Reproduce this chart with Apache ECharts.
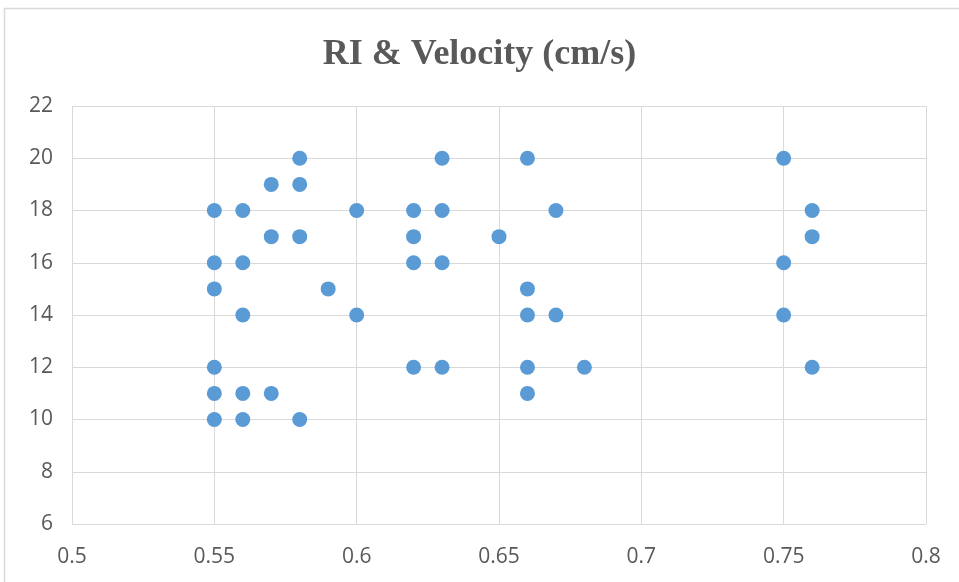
<!DOCTYPE html>
<html>
<head>
<meta charset="utf-8">
<script src="https://cdn.jsdelivr.net/npm/echarts@6/dist/echarts.min.js"></script>
<style>
  html, body { margin: 0; padding: 0; background: #fff; }
  #mainChart { width: 959px; height: 582px; }
</style>
</head>
<body>
<div id="mainChart"></div>
<script>
// RI values (x) and velocity values (y)
var riValues = [
  0.55, 0.55, 0.55, 0.55, 0.55, 0.55,
  0.56, 0.56, 0.56, 0.56, 0.56,
  0.57, 0.57, 0.57,
  0.58, 0.58, 0.58, 0.58,
  0.59,
  0.6, 0.6,
  0.62, 0.62, 0.62, 0.62,
  0.63, 0.63, 0.63, 0.63,
  0.65,
  0.66, 0.66, 0.66, 0.66, 0.66,
  0.67, 0.67,
  0.68,
  0.75, 0.75, 0.75,
  0.76, 0.76, 0.76
];
var velocityValues = [
  18, 16, 15, 12, 11, 10,
  18, 16, 14, 11, 10,
  19, 17, 11,
  20, 19, 17, 10,
  15,
  18, 14,
  18, 17, 16, 12,
  20, 18, 16, 12,
  17,
  20, 15, 14, 12, 11,
  18, 14,
  12,
  20, 16, 14,
  18, 17, 12
];
var xTicks = [0.5, 0.8, 0.05];
var yTicks = [6, 22, 2];

var points = riValues.map(function (x, i) { return [x, velocityValues[i]]; });

var chartDom = document.getElementById('mainChart');
var myChart = echarts.init(chartDom);

var labelFont = "'Open Sans', 'DejaVu Sans', sans-serif";

var option = {
    backgroundColor: '#fff',
    animation: false,
    title: {
        text: 'RI & Velocity (cm/s)',
        left: 'center',
        top: 32,
        textStyle: {
            fontFamily: "'Liberation Serif', 'DejaVu Serif', serif",
            fontWeight: 'bold',
            fontSize: 36,
            color: '#595959'
        }
    },
    graphic: [{
        type: 'rect',
        shape: { x: 4.5, y: 8.5, width: 970, height: 600 },
        style: { fill: 'none', stroke: '#d9d9d9', lineWidth: 1.5 },
        silent: true
    }],
    grid: { left: 72, right: 33, top: 106, bottom: 58 },
    xAxis: {
        type: 'value',
        min: xTicks[0],
        max: xTicks[1],
        interval: xTicks[2],
        axisLine: { show: true, lineStyle: { color: '#d9d9d9' } },
        axisTick: { show: false },
        splitLine: { show: true, lineStyle: { color: '#d9d9d9' } },
        axisLabel: {
            margin: 23,
            fontFamily: labelFont,
            fontSize: 21,
            color: '#595959',
            formatter: function (v) { return String(+v.toFixed(2)); }
        }
    },
    yAxis: {
        type: 'value',
        min: yTicks[0],
        max: yTicks[1],
        interval: yTicks[2],
        axisLine: { show: false },
        axisTick: { show: false },
        splitLine: { show: true, lineStyle: { color: '#d9d9d9' } },
        axisLabel: {
            margin: 19,
            fontFamily: labelFont,
            fontSize: 21,
            color: '#595959'
        }
    },
    series: [{
        name: 'Velocity',
        type: 'scatter',
        symbolSize: 15,
        itemStyle: { color: '#5b9bd5', opacity: 1 },
        data: points
    }]
};

myChart.setOption(option);
</script>
</body>
</html>
